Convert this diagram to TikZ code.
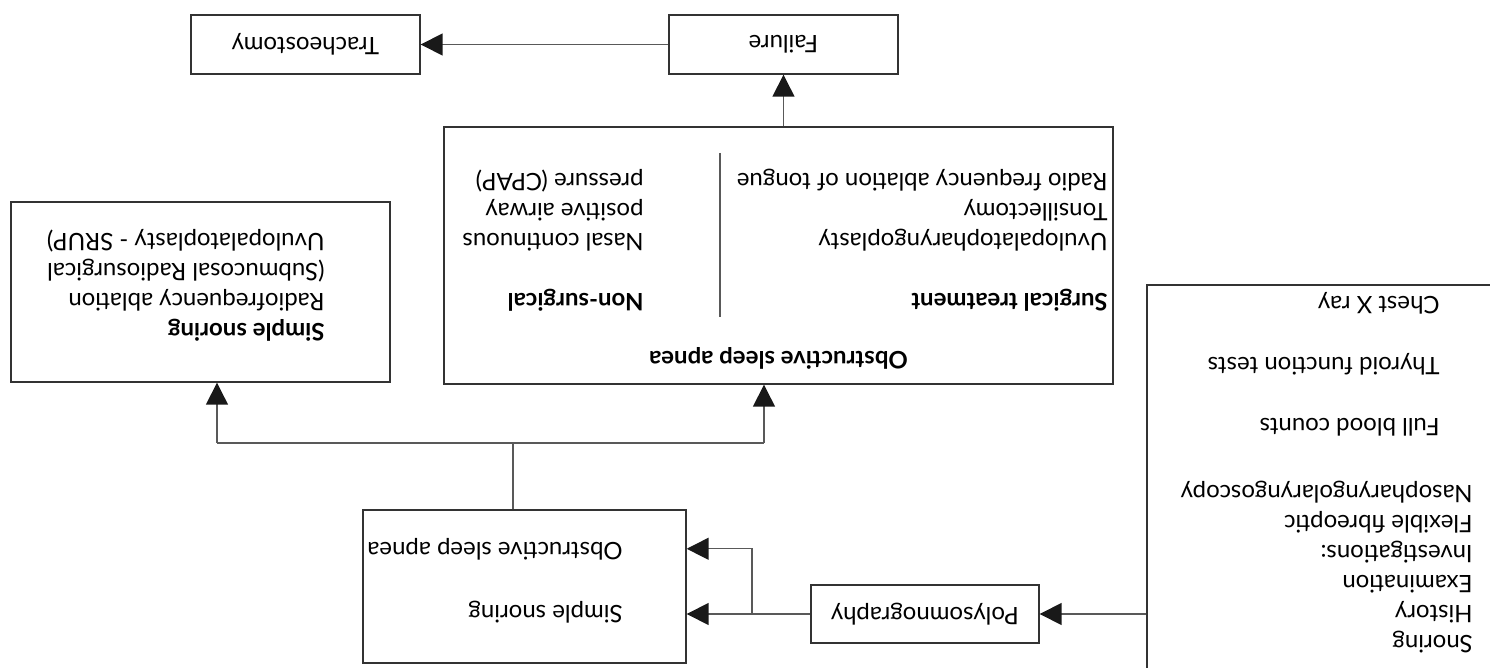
\documentclass[tikz,border=0pt]{standalone}
\usepackage{fontspec}
\setmainfont{Lato}
\usetikzlibrary{arrows.meta}
\begin{document}
\begin{tikzpicture}[x=0.5pt, y=0.5pt, rotate=180, transform shape,
      font=\fontsize{12}{15}\selectfont,
      block/.style={draw=black!80, line width=0.7pt, inner sep=0pt},
      txt/.style={inner sep=0pt, align=left, anchor=north west},
      link/.style={draw=black!65, line width=0.7pt},
      arr/.style={link, -{Triangle[length=11pt, width=11pt, color=black!90]}}]
    \useasboundingbox (0,0) rectangle (1490,668);
    \clip (0,0) rectangle (1490,668);
    \node[block, minimum width=186.5pt, minimum height=217.5pt] (inv) at (156.5,502.5) {};
    \node[txt] (exam) at (17,653) {Snoring\\History\\Examination\\Investigations:\\Flexible fibreoptic\\Nasopharyngolaryngoscopy};
    \node[txt] (fbc) at (50,437) {Full blood counts};
    \node[txt] (tft) at (50,376) {Thyroid function tests};
    \node[txt] (cxr) at (50,315) {Chest X ray};
    \node[block, minimum width=114pt, minimum height=29pt] (poly) at (565,614) {Polysomnography};
    \node[block, minimum width=161.5pt, minimum height=76.5pt] (diag) at (965.5,586.5) {};
    \node[inner sep=0pt, anchor=base west] (dss) at (867,605) {Simple snoring};
    \node[inner sep=0pt, anchor=base west] (dosa) at (867,542) {Obstructive sleep apnea};
    \node[block, minimum width=189.5pt, minimum height=90pt] (snore) at (1289.5,292) {};
    \node[txt] (rfa) at (1165,342) {\textbf{Simple snoring}\\Radiofrequency ablation\\(Submucosal Radiosurgical\\Uvulopalatoplasty - SRUP)};
    \node[block, minimum width=334.5pt, minimum height=128.5pt] (osa) at (711.5,255.5) {};
    \node[inner sep=0pt, anchor=base] (osat) at (711.5,352) {\textbf{Obstructive sleep apnea}};
    \node[txt] (surg) at (382,312) {\textbf{Surgical treatment}\\[15pt]Uvulopalatopharyngoplasty\\Tonsillectomy\\Radio frequency ablation of tongue};
    \node[txt] (nonsurg) at (846,312) {\textbf{Non-surgical}\\[15pt]Nasal continuous\\positive airway\\pressure (CPAP)};
    \draw[link] (770,153) -- (770,317);
    \node[block, minimum width=114.5pt, minimum height=29.5pt] (fail) at (706.5,44.5) {Failure};
    \node[block, minimum width=114.5pt, minimum height=29.5pt] (trach) at (1184.5,44.5) {Tracheostomy};
    \coordinate (split) at (738,614);
    \coordinate (fork) at (977,443);
    \coordinate (forkL) at (1273,443);
    \coordinate (forkR) at (726,443);
    \draw[arr] (inv.east |- poly.west) -- (poly.west);
    \draw[link] (poly.east) -- (split);
    \draw[arr] (split) -- (split -| diag.west);
    \draw[arr] (split) |- (diag.west |- dosa);
    \draw[link] (diag.south -| fork) -- (fork);
    \draw[link] (forkR) -- (forkL);
    \draw[arr] (forkL) -- (forkL |- snore.north);
    \draw[arr] (forkR) -- (forkR |- osa.north);
    \draw[arr] (fail.north |- osa.south) -- (fail.north);
    \draw[arr] (fail) -- (trach);
\end{tikzpicture}
\end{document}
